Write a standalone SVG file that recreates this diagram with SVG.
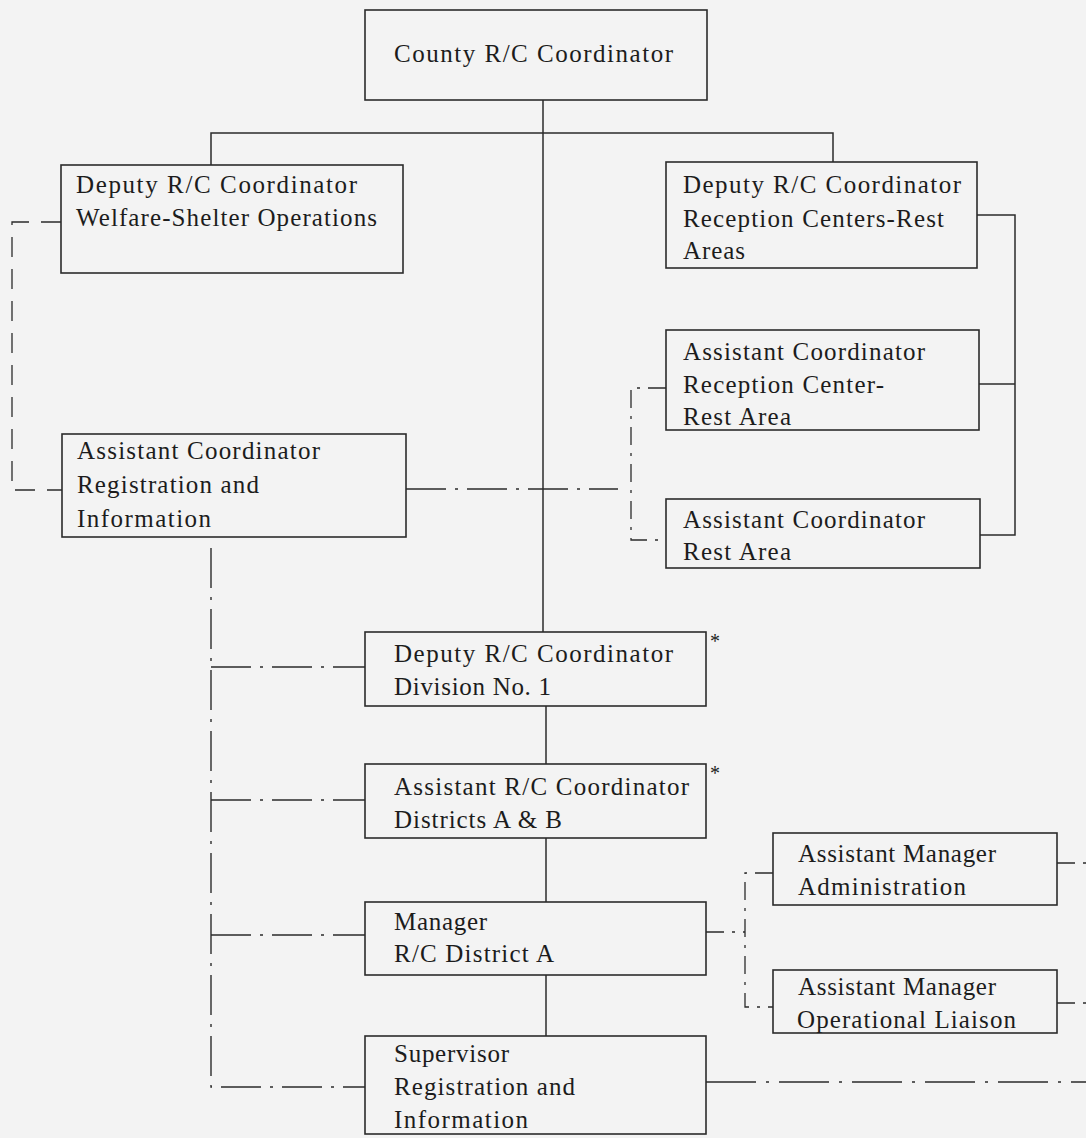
<svg xmlns="http://www.w3.org/2000/svg" width="1086" height="1138" viewBox="0 0 1086 1138">
<style>
.bg{fill:#f3f3f3}
.box{fill:none;stroke:#2b2b2b;stroke-width:1.6}
.t{font-family:"Liberation Serif","Times New Roman",serif;font-size:25px;fill:#1c1c1c}
.ast{font-family:"Liberation Serif","Times New Roman",serif;font-size:20px;fill:#1c1c1c}
.solid{fill:none;stroke:#2b2b2b;stroke-width:1.5}
.dd{fill:none;stroke:#2b2b2b;stroke-width:1.4;stroke-dasharray:40 9 3 9}
.dsh{fill:none;stroke:#2b2b2b;stroke-width:1.3;stroke-dasharray:20 12}
.dd2{fill:none;stroke:#2b2b2b;stroke-width:1.3;stroke-dasharray:50 10 3 10}
.dds{fill:none;stroke:#2b2b2b;stroke-width:1.3;stroke-dasharray:18 8 3 8}
</style>
<rect class="bg" x="0" y="0" width="1086" height="1138"/>

<g id="connectors">
  <path class="solid" d="M543,100 L543,632"/>
  <path class="solid" d="M211,165 L211,133 L833,133 L833,162"/>
  <path class="solid" d="M977,215 L1015,215 L1015,535 L980,535"/>
  <path class="solid" d="M979,384 L1015,384"/>
  <path class="solid" d="M546,706 L546,764"/>
  <path class="solid" d="M546,838 L546,902"/>
  <path class="solid" d="M546,975 L546,1036"/>
  <path class="dsh" d="M61,222 L12,222 L12,490 L62,490"/>
  <path class="dd" d="M406,489 L618,489"/>
  <path class="dds" d="M666,388 L631,388 L631,540 L666,540"/>
  <path class="dd" d="M211,548 L211,1087 L365,1087"/>
  <path class="dd" d="M211,667 L365,667"/>
  <path class="dd" d="M211,800 L365,800"/>
  <path class="dd" d="M211,935 L365,935"/>
  <path class="dds" d="M706,932 L745,932"/>
  <path class="dds" d="M773,873 L745,873 L745,1007 L773,1007"/>
  <path class="dds" d="M1057,863 L1086,863"/>
  <path class="dds" d="M1057,1003 L1086,1003"/>
  <path class="dd2" d="M706,1082 L1086,1082"/>
</g>

<g id="county">
  <rect class="box" x="365" y="10" width="342" height="90"/>
  <text class="t" x="394" y="62" textLength="279" lengthAdjust="spacing">County R/C Coordinator</text>
</g>

<g id="deputy-welfare">
  <rect class="box" x="61" y="165" width="342" height="108"/>
  <text class="t" x="76" y="193" textLength="281" lengthAdjust="spacing">Deputy R/C Coordinator</text>
  <text class="t" x="76" y="226" textLength="301" lengthAdjust="spacing">Welfare-Shelter Operations</text>
</g>

<g id="deputy-reception">
  <rect class="box" x="666" y="162" width="311" height="106"/>
  <text class="t" x="683" y="193" textLength="278" lengthAdjust="spacing">Deputy R/C Coordinator</text>
  <text class="t" x="683" y="227" textLength="261" lengthAdjust="spacing">Reception Centers-Rest</text>
  <text class="t" x="683" y="259" textLength="62" lengthAdjust="spacing">Areas</text>
</g>

<g id="asst-reception-center">
  <rect class="box" x="666" y="330" width="313" height="100"/>
  <text class="t" x="683" y="360" textLength="242" lengthAdjust="spacing">Assistant Coordinator</text>
  <text class="t" x="683" y="393" textLength="201" lengthAdjust="spacing">Reception Center-</text>
  <text class="t" x="683" y="425" textLength="108" lengthAdjust="spacing">Rest Area</text>
</g>

<g id="asst-rest-area">
  <rect class="box" x="666" y="499" width="314" height="69"/>
  <text class="t" x="683" y="528" textLength="242" lengthAdjust="spacing">Assistant Coordinator</text>
  <text class="t" x="683" y="560" textLength="108" lengthAdjust="spacing">Rest Area</text>
</g>

<g id="asst-registration">
  <rect class="box" x="62" y="434" width="344" height="103"/>
  <text class="t" x="77" y="459" textLength="243" lengthAdjust="spacing">Assistant Coordinator</text>
  <text class="t" x="77" y="493" textLength="182" lengthAdjust="spacing">Registration and</text>
  <text class="t" x="77" y="527" textLength="134" lengthAdjust="spacing">Information</text>
</g>

<g id="deputy-division">
  <rect class="box" x="365" y="632" width="341" height="74"/>
  <text class="t" x="394" y="662" textLength="279" lengthAdjust="spacing">Deputy R/C Coordinator</text>
  <text class="t" x="394" y="695" textLength="157" lengthAdjust="spacing">Division No. 1</text>
  <text class="ast" x="710" y="648">*</text>
</g>

<g id="asst-districts">
  <rect class="box" x="365" y="764" width="341" height="74"/>
  <text class="t" x="394" y="795" textLength="295" lengthAdjust="spacing">Assistant R/C Coordinator</text>
  <text class="t" x="394" y="828" textLength="168" lengthAdjust="spacing">Districts A &amp; B</text>
  <text class="ast" x="710" y="780">*</text>
</g>

<g id="manager">
  <rect class="box" x="365" y="902" width="341" height="73"/>
  <text class="t" x="394" y="930" textLength="93" lengthAdjust="spacing">Manager</text>
  <text class="t" x="394" y="962" textLength="160" lengthAdjust="spacing">R/C District A</text>
</g>

<g id="supervisor">
  <rect class="box" x="365" y="1036" width="341" height="98"/>
  <text class="t" x="394" y="1062" textLength="115" lengthAdjust="spacing">Supervisor</text>
  <text class="t" x="394" y="1095" textLength="181" lengthAdjust="spacing">Registration and</text>
  <text class="t" x="394" y="1128" textLength="134" lengthAdjust="spacing">Information</text>
</g>

<g id="asst-mgr-admin">
  <rect class="box" x="773" y="833" width="284" height="72"/>
  <text class="t" x="798" y="862" textLength="198" lengthAdjust="spacing">Assistant Manager</text>
  <text class="t" x="798" y="895" textLength="168" lengthAdjust="spacing">Administration</text>
</g>

<g id="asst-mgr-liaison">
  <rect class="box" x="773" y="970" width="284" height="63"/>
  <text class="t" x="798" y="995" textLength="198" lengthAdjust="spacing">Assistant Manager</text>
  <text class="t" x="797" y="1028" textLength="219" lengthAdjust="spacing">Operational Liaison</text>
</g>
</svg>
